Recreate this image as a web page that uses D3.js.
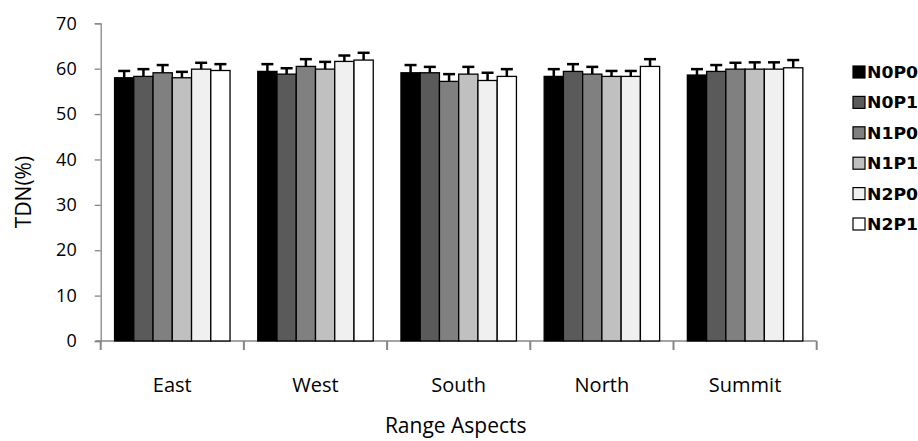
<!DOCTYPE html>
<html>
<head>
<meta charset="utf-8">
<script src="https://cdn.jsdelivr.net/npm/d3@7"></script>
<style>
  html, body { margin: 0; padding: 0; background: #fff; }
  svg { display: block; }
</style>
</head>
<body>
<script>
const categories = ['East', 'West', 'South', 'North', 'Summit']
const series = ['N0P0', 'N0P1', 'N1P0', 'N1P1', 'N2P0', 'N2P1']
const seriesFill = ['#000000', '#5a5a5a', '#808080', '#c0c0c0', '#f0f0f0', '#ffffff']

// TDN(%) per aspect, one array per treatment
const N0P0 = [58.0, 59.4, 59.1, 58.3, 58.6]
const N0P1 = [58.3, 58.8, 59.1, 59.4, 59.4]
const N1P0 = [59.1, 60.5, 57.2, 58.8, 59.9]
const N1P1 = [58.0, 59.9, 58.8, 58.3, 59.9]
const N2P0 = [59.9, 61.6, 57.4, 58.3, 59.9]
const N2P1 = [59.6, 61.9, 58.3, 60.5, 60.2]

// error bar half-widths (upper whisker only)
const errN0P0 = [1.5, 1.6, 1.7, 1.6, 1.3]
const errN0P1 = [1.6, 1.3, 1.3, 1.6, 1.4]
const errN1P0 = [1.7, 1.6, 1.6, 1.6, 1.4]
const errN1P1 = [1.3, 1.6, 1.6, 1.2, 1.5]
const errN2P0 = [1.4, 1.3, 1.7, 1.2, 1.5]
const errN2P1 = [1.4, 1.6, 1.6, 1.6, 1.7]

const yTicks = [0, 10, 20, 30, 40, 50, 60, 70]

const values = [N0P0, N0P1, N1P0, N1P1, N2P0, N2P1]
const errors = [errN0P0, errN0P1, errN1P0, errN1P1, errN2P0, errN2P1]

const width = 918, height = 441
const m = { left: 100.7, right: 816.7, top: 23.3, bottom: 341 }

const svg = d3.select('body').append('svg')
  .attr('width', width)
  .attr('height', height)

const x = d3.scaleBand().domain(categories).range([m.left, m.right])
const x1 = d3.scaleBand().domain(series).range([0, x.bandwidth()]).paddingOuter(0.72)
const y = d3.scaleLinear().domain([0, 70]).range([m.bottom, m.top])

const axisColor = '#868686'
const labelFont = "'Open Sans', 'Liberation Sans', sans-serif"

// y axis
const yAxis = svg.append('g')
  .attr('transform', `translate(${m.left},0)`)
  .call(d3.axisLeft(y).tickValues(yTicks).tickSize(6).tickPadding(18))
yAxis.select('.domain').attr('stroke', axisColor).attr('stroke-width', 1.3)
yAxis.selectAll('.tick line').attr('stroke', axisColor).attr('stroke-width', 1.3)
yAxis.selectAll('.tick text')
  .attr('font-family', labelFont)
  .attr('font-size', 18)
  .attr('fill', '#000')

// x axis: category ticks at band boundaries
const xAxis = svg.append('g').attr('transform', `translate(0,${m.bottom})`)
xAxis.append('line')
  .attr('x1', m.left - 5).attr('x2', m.right)
  .attr('stroke', axisColor).attr('stroke-width', 1.5)
const bounds = categories.map(c => x(c)).concat([m.right])
xAxis.selectAll('line.tk').data(bounds).join('line')
  .attr('class', 'tk')
  .attr('x1', d => d).attr('x2', d => d)
  .attr('y1', 0).attr('y2', 9)
  .attr('stroke', axisColor).attr('stroke-width', 2)
xAxis.selectAll('text').data(categories).join('text')
  .attr('x', d => x(d) + x.bandwidth() / 2)
  .attr('y', 51)
  .attr('text-anchor', 'middle')
  .attr('font-family', labelFont)
  .attr('font-size', 20)
  .attr('fill', '#000')
  .text(d => d)

// bars
const groups = svg.append('g').selectAll('g')
  .data(categories).join('g')
  .attr('transform', d => `translate(${x(d)},0)`)

groups.each(function (cat, ci) {
  const g = d3.select(this)
  series.forEach((s, si) => {
    const v = values[si][ci]
    const e = errors[si][ci]
    const bx = x1(s)
    const cx = bx + x1.bandwidth() / 2
    // error whisker (drawn first, bar top covers its base)
    g.append('line')
      .attr('x1', cx).attr('x2', cx)
      .attr('y1', y(v)).attr('y2', y(v + e))
      .attr('stroke', '#000').attr('stroke-width', 2.5)
    g.append('line')
      .attr('x1', cx - 6).attr('x2', cx + 6)
      .attr('y1', y(v + e)).attr('y2', y(v + e))
      .attr('stroke', '#000').attr('stroke-width', 2.5)
    g.append('rect')
      .attr('x', bx)
      .attr('y', y(v))
      .attr('width', x1.bandwidth())
      .attr('height', y(0) - y(v))
      .attr('fill', seriesFill[si])
      .attr('stroke', '#000')
      .attr('stroke-width', 1.3)
  })
})

// y title
svg.append('text')
  .attr('transform', `translate(31,192) rotate(-90)`)
  .attr('text-anchor', 'middle')
  .attr('font-family', labelFont)
  .attr('font-size', 21)
  .attr('fill', '#000')
  .text('TDN(%)')

// x title
svg.append('text')
  .attr('x', (m.left + m.right) / 2 - 3)
  .attr('y', 433)
  .attr('text-anchor', 'middle')
  .attr('font-family', labelFont)
  .attr('font-size', 21)
  .attr('fill', '#000')
  .text('Range Aspects')

// legend
const legendY = d3.scalePoint().domain(series).range([72, 224])
const legend = svg.append('g').selectAll('g')
  .data(series).join('g')
  .attr('transform', d => `translate(853,${legendY(d)})`)
legend.append('rect')
  .attr('x', 0).attr('y', -6)
  .attr('width', 12).attr('height', 12)
  .attr('fill', (d, i) => seriesFill[i])
  .attr('stroke', '#000').attr('stroke-width', 1.2)
legend.append('text')
  .attr('x', 14)
  .attr('y', 6)
  .attr('font-family', "'DejaVu Sans Condensed', 'DejaVu Sans', sans-serif")
  .attr('font-weight', 'bold')
  .attr('font-size', 15)
  .attr('textLength', 51)
  .attr('lengthAdjust', 'spacingAndGlyphs')
  .attr('fill', '#000')
  .text(d => d)
</script>
</body>
</html>
